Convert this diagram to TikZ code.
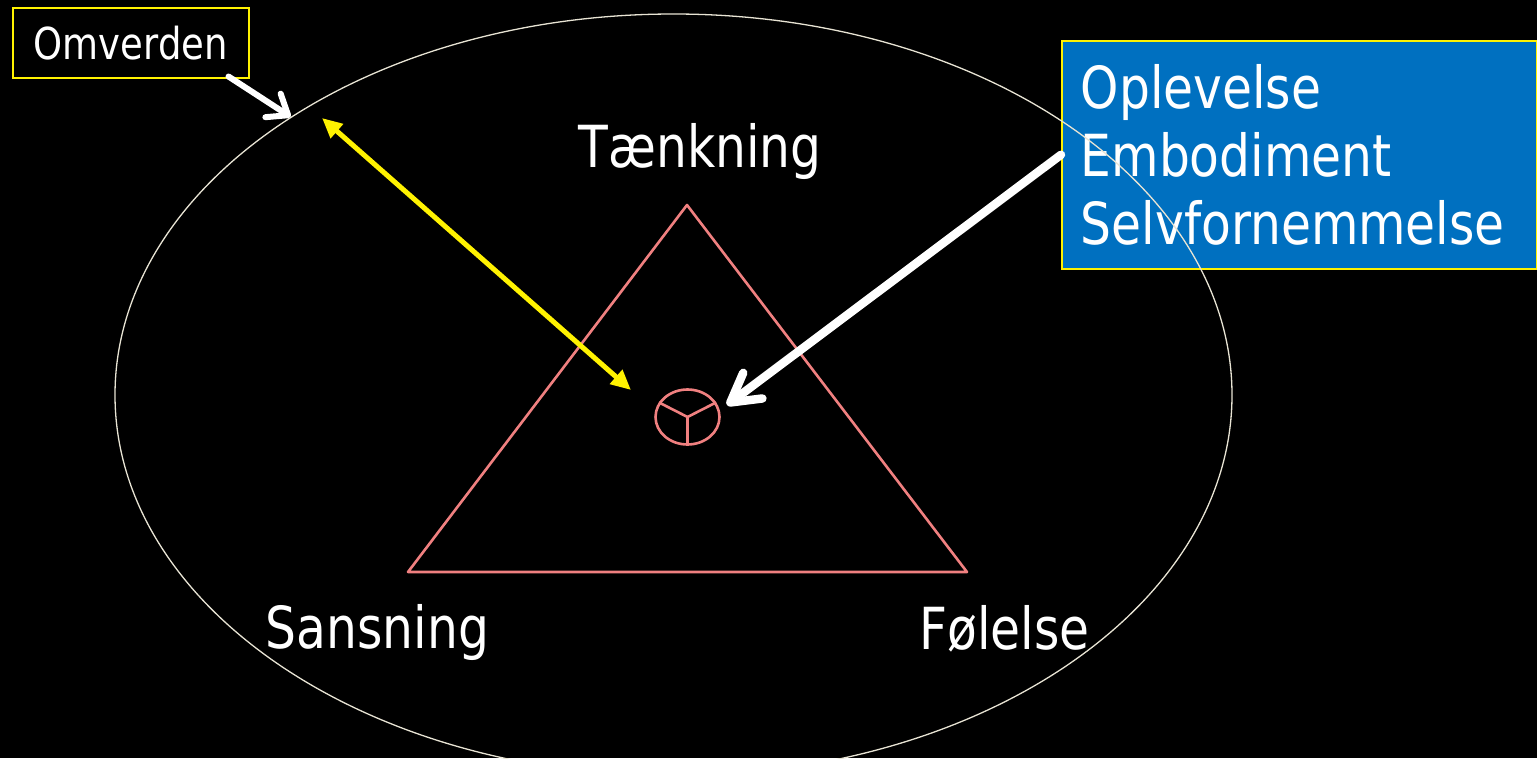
\documentclass[tikz,border=0pt]{standalone}
\usepackage{fontspec}
\setmainfont{DejaVu Sans}[FakeStretch=0.84]
\usepackage{tikz}
\usetikzlibrary{arrows.meta,positioning,shapes.geometric}
\definecolor{boxblue}{RGB}{0,112,192}
\definecolor{coral}{RGB}{240,128,128}
\definecolor{rim}{RGB}{232,228,212}
\tikzset{
term/.style={text=white,font=\fontsize{58}{68}\selectfont,inner sep=0pt,anchor=base},
expbox/.style={fill=boxblue,draw=yellow,line width=1.5pt,align=left,text=white,font=\fontsize{58}{68}\selectfont,text width=437pt,minimum height=228pt,inner xsep=19pt,inner ysep=0pt},
omvbox/.style={fill=black,draw=yellow,line width=1.5pt,text=white,font=\fontsize{44}{50}\selectfont,minimum width=236pt,minimum height=70pt,inner sep=0pt},
psyche/.style={draw=coral,line width=2.6pt,line join=round},
yarrow/.style={{Triangle[length=20pt,width=18pt]}-{Triangle[length=20pt,width=18pt]},draw=yellow,line width=5pt},
warrow/.style={-{Straight Barb[round,length=28pt,width=32pt]},draw=white,line width=8.5pt,line cap=round},
smallwarrow/.style={-{Straight Barb[round,length=18pt,width=28pt]},draw=white,line width=6pt,line cap=round}
}
\begin{document}
\begin{tikzpicture}[x=1pt,y=-1pt]
\useasboundingbox (0,0) rectangle (1537,758);
\fill[black] (0,0) rectangle (1537,758);

% info box sits under the outer ring
\node[expbox,anchor=north west] (exp) at (1061,40) {Oplevelse\\Embodiment\\Selvfornemmelse};
\node[draw=rim,line width=1.3pt,ellipse,minimum width=1117pt,minimum height=762pt,inner sep=0pt] (world) at (673.5,395) {};

% triangle of functions
\draw[psyche] (687,205) -- (967,572) -- (408,572) -- cycle;
\node[term] (think) at (700,167) {Tænkning};
\node[term] (sense) at (377.5,648) {Sansning};
\node[term] (feel) at (1004.5,649) {Følelse};

% self in the middle
\node[psyche,ellipse,minimum width=64pt,minimum height=55pt,inner sep=0pt] (self) at (687.5,417) {};
\draw[psyche] (self.center) -- (self.-90);
\draw[psyche] (self.center) -- (self.153);
\draw[psyche] (self.center) -- (self.27);

\node[omvbox,anchor=north west] (omv) at (12,7) {Omverden};

\coordinate (rimpt) at (322,118);
\coordinate (midpt) at (631,390);
\coordinate (selfpt) at (727,405);
\draw[yarrow] (rimpt) -- (midpt);
\draw[warrow] (exp.west) -- (selfpt);
\draw[smallwarrow] ([xshift=-21pt,yshift=2pt]omv.south east) -- (world.144);
\end{tikzpicture}
\end{document}
